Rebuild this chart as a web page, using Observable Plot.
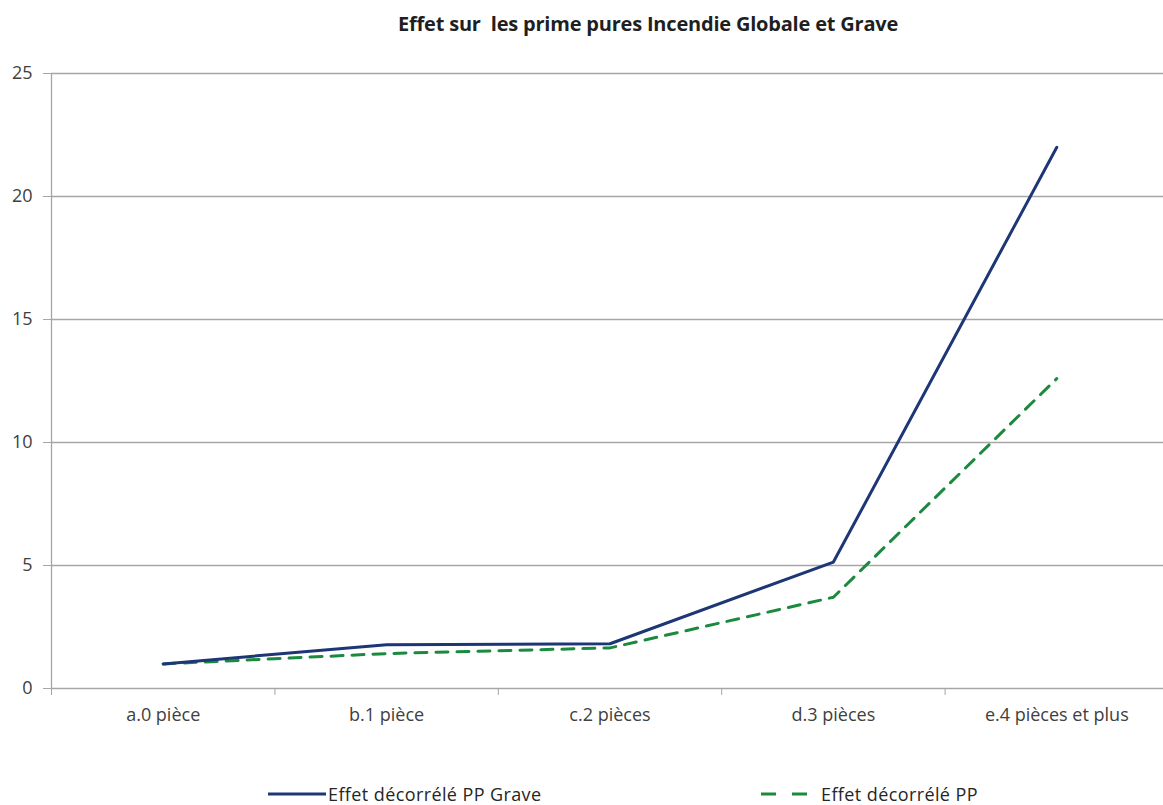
<!DOCTYPE html>
<html>
<head>
<meta charset="utf-8">
<script src="https://cdn.jsdelivr.net/npm/d3@7"></script>
<script src="https://cdn.jsdelivr.net/npm/@observablehq/plot@0.6"></script>
<style>
  body { margin: 0; background: #fff; font-family: "Open Sans", sans-serif; }
  #wrap { position: relative; width: 1163px; height: 805px; overflow: hidden; background: #fff; }
  #title { position: absolute; top: 10px; left: 398px; text-align: left; white-space: nowrap;
           font-weight: bold; font-size: 20px; color: #1f1f1f; letter-spacing: -0.2px; }
  #chart { position: absolute; top: 50px; left: 0; }
  .leg { position: absolute; top: 784px; height: 20px; line-height: 20px; display: flex; align-items: center;
         font-size: 18px; letter-spacing: 0.4px; color: #262626; white-space: nowrap; }
  .leg svg { display: block; }
</style>
</head>
<body>
<div id="wrap">
  <div id="title">Effet sur&nbsp; les prime pures Incendie Globale et Grave</div>
  <div id="chart"></div>
  <div class="leg" id="leg0" style="left:268px"></div>
  <div class="leg" id="leg1" style="left:761px"></div>
</div>
<script>
// Nombre de pièces du logement
const categories = ["a.0 pièce", "b.1 pièce", "c.2 pièces", "d.3 pièces", "e.4 pièces et plus"];
// Effets décorrélés sur les primes pures
const effetGrave = [1.0, 1.78, 1.82, 5.14, 22.0];
const effetPP = [1.0, 1.42, 1.65, 3.71, 12.6];
const seriesNames = ["Effet décorrélé PP Grave", "Effet décorrélé PP"];
const seriesColors = ["#1c3676", "#1b8a3e"];
const seriesDash = [null, "12,9"];
const yTicks = [0, 5, 10, 15, 20, 25];

const idx = categories.map((_, i) => i);
const bounds = d3.range(categories.length + 1).map(i => i - 0.5);
const rows = (vals) => vals.map((v, i) => ({i, v}));

const grid = "#a6a6a6";
const textColor = "#404040";

const chart = Plot.plot({
  width: 1163,
  height: 700,
  marginTop: 23,
  marginBottom: 62,
  marginLeft: 51,
  marginRight: -5,
  style: {fontFamily: "'Open Sans', sans-serif", background: "transparent"},
  x: {type: "linear", domain: [-0.5, categories.length - 0.5], axis: null},
  y: {domain: [0, 25], axis: null},
  marks: [
    Plot.ruleY(yTicks, {stroke: grid, strokeWidth: 1.3}),
    Plot.ruleX([-0.5], {stroke: grid, strokeWidth: 1.3}),
    Plot.axisY({ticks: yTicks, tickSize: 8, tickPadding: 11, stroke: grid,
                fontSize: 18, fill: textColor, label: null}),
    Plot.axisX({ticks: bounds, tickSize: 7, tickFormat: () => "", stroke: grid, label: null}),
    Plot.axisX({ticks: idx, tickSize: 0, tickPadding: 20, tickFormat: i => categories[i],
                fontSize: 18, fill: textColor, label: null, style: {letterSpacing: "0.6px"}}),
    Plot.line(rows(effetPP), {x: "i", y: "v", stroke: seriesColors[1], strokeWidth: 3,
                               strokeDasharray: seriesDash[1]}),
    Plot.line(rows(effetGrave), {x: "i", y: "v", stroke: seriesColors[0], strokeWidth: 3})
  ]
});
document.getElementById("chart").appendChild(chart);

// Légende sous le graphique
[0, 1].forEach(k => {
  const el = document.getElementById("leg" + k);
  const sw = k === 0 ? 58 : 46;
  const dash = seriesDash[k] ? ` stroke-dasharray="15,16"` : "";
  el.innerHTML = `<svg width="${sw}" height="12"><line x1="0" x2="${sw}" y1="6" y2="6" stroke="${seriesColors[k]}" stroke-width="3"${dash}/></svg>` +
    `<span style="margin-left:${k === 0 ? 2 : 14}px">${seriesNames[k]}</span>`;
});
</script>
</body>
</html>
